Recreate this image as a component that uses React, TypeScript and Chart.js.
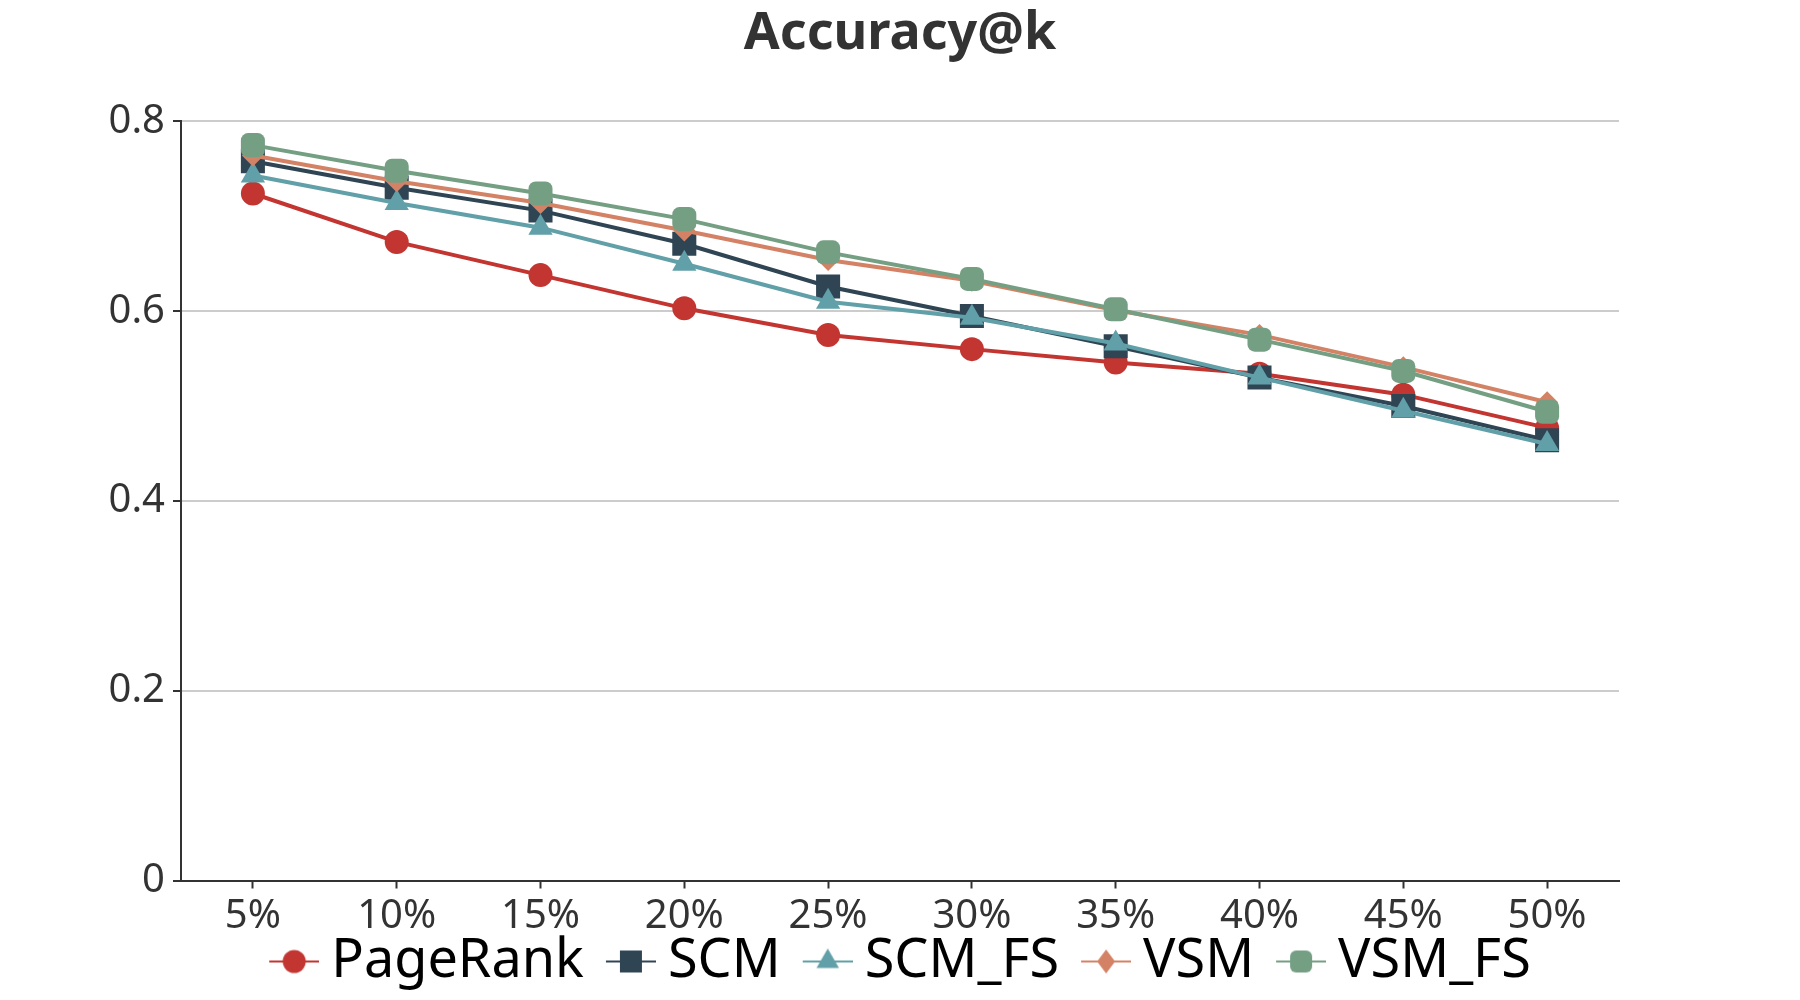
import React, { useEffect, useRef } from "react";
import { Chart, registerables } from "chart.js";

Chart.register(...registerables);

const categories = ["5%", "10%", "15%", "20%", "25%", "30%", "35%", "40%", "45%", "50%"];
const seriesNames = ["PageRank", "SCM", "SCM_FS", "VSM", "VSM_FS"];
const pageRank = [0.724, 0.673, 0.638, 0.603, 0.575, 0.56, 0.546, 0.534, 0.512, 0.477];
const scm = [0.758, 0.73, 0.706, 0.671, 0.626, 0.595, 0.563, 0.53, 0.5, 0.464];
const scmFs = [0.743, 0.714, 0.688, 0.65, 0.61, 0.593, 0.566, 0.53, 0.495, 0.46];
const vsm = [0.764, 0.737, 0.714, 0.685, 0.654, 0.632, 0.601, 0.575, 0.541, 0.504];
const vsmFs = [0.775, 0.748, 0.724, 0.697, 0.662, 0.634, 0.602, 0.57, 0.537, 0.494];
const yTicks = [0, 0.2, 0.4, 0.6, 0.8];

const colors = ["#c23531", "#2f4554", "#61a0a8", "#d48265", "#749f83"];
const styles = ["circle", "rect", "triangle", "rectRot", "rectRounded"];
const radii = [12, 17, 14, 11, 14];
const FONT = "'Noto Sans', 'Open Sans', sans-serif";

// legend image: visible line+marker (50px) placed at the right part of a 65px image
function makeLegendImage(idx: number): HTMLCanvasElement {
  const c = document.createElement("canvas");
  const w = 65, h = 30;
  c.width = w;
  c.height = h;
  const ctx = c.getContext("2d")!;
  const color = colors[idx];
  const x0 = w - 50;
  ctx.strokeStyle = color;
  ctx.fillStyle = color;
  ctx.lineWidth = 2;
  ctx.beginPath();
  ctx.moveTo(x0, h / 2);
  ctx.lineTo(w, h / 2);
  ctx.stroke();
  const x = x0 + 25, y = h / 2;
  ctx.beginPath();
  const s = styles[idx];
  if (s === "circle") {
    ctx.arc(x, y, 11.5, 0, Math.PI * 2);
  } else if (s === "rect") {
    ctx.rect(x - 11, y - 11, 22, 22);
  } else if (s === "triangle") {
    const r = 13;
    ctx.moveTo(x, y - r);
    ctx.lineTo(x + r * 0.866, y + r / 2);
    ctx.lineTo(x - r * 0.866, y + r / 2);
    ctx.closePath();
  } else if (s === "rectRot") {
    const r = 12;
    ctx.moveTo(x, y - r);
    ctx.lineTo(x + r * 0.75, y);
    ctx.lineTo(x, y + r);
    ctx.lineTo(x - r * 0.75, y);
    ctx.closePath();
  } else {
    const half = 11, cr = 6;
    ctx.moveTo(x - half + cr, y - half);
    ctx.arcTo(x + half, y - half, x + half, y + half, cr);
    ctx.arcTo(x + half, y + half, x - half, y + half, cr);
    ctx.arcTo(x - half, y + half, x - half, y - half, cr);
    ctx.arcTo(x - half, y - half, x + half, y - half, cr);
    ctx.closePath();
  }
  ctx.fill();
  return c;
}

export default function App() {
  const ref = useRef<HTMLCanvasElement>(null);
  useEffect(() => {
    if (!ref.current) return;
    const values = [pageRank, scm, scmFs, vsm, vsmFs];
    const legendImgs = seriesNames.map((_, i) => makeLegendImage(i));
    const chart = new Chart(ref.current, {
      type: "line",
      data: {
        labels: categories,
        datasets: seriesNames.map((name, i) => ({
          label: name,
          data: values[i],
          yAxisID: "y",
          borderColor: colors[i],
          backgroundColor: colors[i],
          borderWidth: 4,
          pointStyle: styles[i] as any,
          pointRadius: radii[i],
          pointBorderWidth: 0,
          pointBackgroundColor: colors[i],
          tension: 0,
          order: 5 - i,
        })),
      },
      options: {
        animation: false,
        responsive: true,
        maintainAspectRatio: false,
        layout: { padding: { left: 0, right: 0, top: 0, bottom: 1.5 } },
        plugins: {
          title: {
            display: true,
            text: "Accuracy@k",
            color: "#333",
            font: { family: FONT, size: 52, weight: "bold" },
            padding: { top: 3, bottom: 56 },
          },
          legend: {
            position: "bottom",
            labels: {
              usePointStyle: true,
              pointStyleWidth: 35,
              boxHeight: 30,
              padding: 22,
              color: "#333",
              font: { family: FONT, size: 54 },
              generateLabels: (ch: any) =>
                ch.data.datasets.map((ds: any, i: number) => ({
                  text: ds.label,
                  pointStyle: legendImgs[i],
                  fillStyle: colors[i],
                  strokeStyle: colors[i],
                  lineWidth: 0,
                  hidden: false,
                  datasetIndex: i,
                })),
            },
          },
          tooltip: { enabled: false },
        },
        scales: {
          x: {
            offset: true,
            afterFit: (s: any) => {
              s.height = 32;
              // labels extend below the (shortened) axis box; don't clip them
              s._computeLabelArea = () => undefined;
            },
            grid: {
              display: true,
              drawOnChartArea: false,
              drawTicks: true,
              tickLength: 8,
              tickColor: "#333",
              tickWidth: 2,
              offset: false,
            },
            border: { display: true, color: "#333", width: 2 },
            ticks: {
              color: "#333",
              font: { family: FONT, size: 40, lineHeight: 1 },
              padding: 8,
              maxRotation: 0,
              autoSkip: false,
            },
          },
          y: {
            min: 0,
            max: 0.8,
            afterFit: (s: any) => {
              s.width = 181;
            },
            afterBuildTicks: (s: any) => {
              s.ticks = yTicks.map((v) => ({ value: v }));
            },
            grid: {
              color: "#ccc",
              lineWidth: 2,
              tickColor: "#333",
              tickLength: 8,
              tickWidth: 2,
            },
            border: { display: true, color: "#333", width: 2 },
            ticks: {
              color: "#333",
              font: { family: FONT, size: 40 },
              padding: 8,
              callback: (v: any) => (v === 0 ? "0" : Number(v).toFixed(1)),
            },
          },
          yr: {
            type: "linear",
            position: "right",
            display: true,
            afterFit: (s: any) => {
              s.width = 181;
            },
            grid: { display: false, drawOnChartArea: false, drawTicks: false },
            border: { display: false },
            ticks: { display: false },
          },
        },
      },
    });
    return () => chart.destroy();
  }, []);
  return (
    <div style={{ position: "absolute", left: 0, top: 0, width: 1800, height: 1000, background: "#fff" }}>
      <canvas ref={ref} />
    </div>
  );
}
